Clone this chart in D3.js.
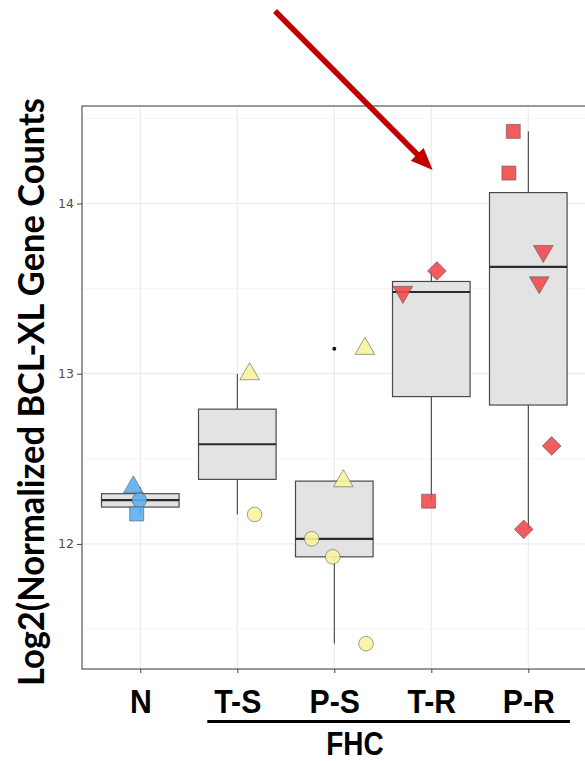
<!DOCTYPE html>
<html>
<head>
<meta charset="utf-8">
<script src="https://cdn.jsdelivr.net/npm/d3@7"></script>
<style>
  html, body { margin: 0; padding: 0; background: #ffffff; }
  svg { display: block; }
</style>
</head>
<body>
<svg id="chart" width="585" height="761"></svg>
<script>
// Groups along the x axis
const categories = ["N", "T-S", "P-S", "T-R", "P-R"];
const groupFill = ["#5eaeee", "#f8f49e", "#f8f49e", "#ef4a4d", "#ef4a4d"];

// log2 normalized BCL-XL counts per sample, with marker shape and horizontal jitter (in category widths)
const valuesN   = [12.333, 12.257, 12.176];
const shapesN   = ["triangle", "circle", "square"];
const jitterN   = [-0.072, -0.010, -0.037];

const valuesTS  = [12.998, 12.173];
const shapesTS  = ["triangle", "circle"];
const jitterTS  = [0.127, 0.178];

const valuesPS  = [13.147, 12.369, 12.030, 11.924, 11.414];
const shapesPS  = ["triangle", "triangle", "circle", "circle", "circle"];
const jitterPS  = [0.316, 0.093, -0.233, -0.016, 0.327];

const valuesTR  = [13.604, 13.480, 12.251];
const shapesTR  = ["diamond", "triangleDown", "square"];
const jitterTR  = [0.058, -0.293, -0.028];

const valuesPR  = [14.424, 14.179, 13.720, 13.536, 12.576, 12.086];
const shapesPR  = ["square", "square", "triangleDown", "triangleDown", "diamond", "diamond"];
const jitterPR  = [-0.155, -0.200, 0.155, 0.113, 0.241, -0.047];

const yTicks = [12, 13, 14];
const yMinor = [11.5, 12.5, 13.5, 14.5];
const yTitle = "Log2(Normalized BCL-XL Gene Counts";
const groupLabel = "FHC";

const groups = [
  { values: valuesN,  shapes: shapesN,  jitter: jitterN },
  { values: valuesTS, shapes: shapesTS, jitter: jitterTS },
  { values: valuesPS, shapes: shapesPS, jitter: jitterPS },
  { values: valuesTR, shapes: shapesTR, jitter: jitterTR },
  { values: valuesPR, shapes: shapesPR, jitter: jitterPR }
].map((g, i) => ({ ...g, name: categories[i], fill: groupFill[i] }));

const svg = d3.select("#chart");

// panel geometry
const panel = { left: 82, right: 586.5, top: 106, bottom: 669 };

const x = d3.scalePoint().domain(categories).range([140.3, 528.3]);
const step = x.step();
const y = d3.scaleLinear().domain([11.265, 14.573]).range([panel.bottom, panel.top]);

const root = svg.append("g");

// grid
root.selectAll("line.minor-y").data(yMinor).join("line")
  .attr("x1", panel.left).attr("x2", panel.right)
  .attr("y1", d => y(d)).attr("y2", d => y(d))
  .attr("stroke", "#f3f3f3").attr("stroke-width", 0.8);
root.selectAll("line.major-y").data(yTicks).join("line")
  .attr("x1", panel.left).attr("x2", panel.right)
  .attr("y1", d => y(d)).attr("y2", d => y(d))
  .attr("stroke", "#ebebeb").attr("stroke-width", 1.2);
root.selectAll("line.major-x").data(categories).join("line")
  .attr("x1", d => x(d)).attr("x2", d => x(d))
  .attr("y1", panel.top).attr("y2", panel.bottom)
  .attr("stroke", "#ebebeb").attr("stroke-width", 1.2);

// box statistics (Tukey, type-7 quantiles)
groups.forEach(g => {
  const s = g.values.slice().sort(d3.ascending);
  const q1 = d3.quantile(s, 0.25), med = d3.quantile(s, 0.5), q3 = d3.quantile(s, 0.75);
  const iqr = q3 - q1;
  const lo = q1 - 1.5 * iqr, hi = q3 + 1.5 * iqr;
  const inside = s.filter(v => v >= lo && v <= hi);
  g.stats = { q1, med, q3, wLo: d3.min(inside), wHi: d3.max(inside),
              outliers: s.filter(v => v < lo || v > hi) };
});

const boxW = step * 0.8;
const boxes = root.selectAll("g.box").data(groups).join("g").attr("class", "box");
boxes.append("line")
  .attr("x1", d => x(d.name)).attr("x2", d => x(d.name))
  .attr("y1", d => y(d.stats.q3)).attr("y2", d => y(d.stats.wHi))
  .attr("stroke", "#333").attr("stroke-width", 1);
boxes.append("line")
  .attr("x1", d => x(d.name)).attr("x2", d => x(d.name))
  .attr("y1", d => y(d.stats.q1)).attr("y2", d => y(d.stats.wLo))
  .attr("stroke", "#333").attr("stroke-width", 1);
boxes.append("rect")
  .attr("x", d => x(d.name) - boxW / 2).attr("width", boxW)
  .attr("y", d => y(d.stats.q3)).attr("height", d => y(d.stats.q1) - y(d.stats.q3))
  .attr("fill", "#e3e3e3").attr("stroke", "#4a4a4a").attr("stroke-width", 1.2);
boxes.append("line")
  .attr("x1", d => x(d.name) - boxW / 2).attr("x2", d => x(d.name) + boxW / 2)
  .attr("y1", d => y(d.stats.med)).attr("y2", d => y(d.stats.med))
  .attr("stroke", "#2b2b2b").attr("stroke-width", 2.2);
boxes.selectAll("circle.outlier").data(d => d.stats.outliers.map(v => ({ v, name: d.name }))).join("circle")
  .attr("cx", d => x(d.name)).attr("cy", d => y(d.v)).attr("r", 2)
  .attr("fill", "#111");

// sample markers
const symbolOf = {
  circle:       { type: d3.symbolCircle,   size: 168, rot: 0 },
  square:       { type: d3.symbolSquare,   size: 196, rot: 0 },
  diamond:      { type: d3.symbolSquare,   size: 175, rot: 45 },
  triangle:     { type: d3.symbolTriangle, size: 168, rot: 0 },
  triangleDown: { type: d3.symbolTriangle, size: 168, rot: 180 }
};
const pts = groups.flatMap(g => g.values.map((v, i) => ({
  v, name: g.name, fill: g.fill, shape: g.shapes[i], dx: g.jitter[i]
})));
root.selectAll("path.pt").data(pts).join("path")
  .attr("d", d => d3.symbol(symbolOf[d.shape].type, symbolOf[d.shape].size)())
  .attr("transform", d => `translate(${x(d.name) + d.dx * step},${y(d.v)}) rotate(${symbolOf[d.shape].rot})`)
  .attr("fill", d => d.fill).attr("fill-opacity", 0.9)
  .attr("stroke", "#555").attr("stroke-opacity", 0.7).attr("stroke-width", 0.8);

// panel border
root.append("rect")
  .attr("x", panel.left).attr("y", panel.top)
  .attr("width", panel.right - panel.left).attr("height", panel.bottom - panel.top)
  .attr("fill", "none").attr("stroke", "#555").attr("stroke-width", 1.2);

// y axis
const yAxis = root.append("g")
  .attr("transform", `translate(${panel.left},0)`)
  .call(d3.axisLeft(y).tickValues(yTicks).tickSize(5).tickPadding(3).tickFormat(d3.format("d")));
yAxis.select(".domain").remove();
yAxis.selectAll(".tick line").attr("stroke", "#444");
yAxis.selectAll(".tick text")
  .attr("fill", "#4d4d4d").attr("font-family", "'DejaVu Sans', sans-serif").attr("font-size", 12.5);

// x axis
const xAxis = root.append("g")
  .attr("transform", `translate(0,${panel.bottom})`)
  .call(d3.axisBottom(x).tickSize(4));
xAxis.select(".domain").remove();
xAxis.selectAll(".tick line").attr("stroke", "#444");
xAxis.selectAll(".tick text")
  .attr("fill", "#000").attr("font-family", "'Liberation Sans', Arial, sans-serif")
  .attr("font-weight", "bold").attr("font-size", 32.5)
  .attr("y", 44.3).attr("dy", null)
  .attr("transform", "scale(0.93,1)");

// group bracket under the four treated groups
const bracket = { x1: 207.3, x2: 570, y: 721.5 };
root.append("line")
  .attr("x1", bracket.x1).attr("x2", bracket.x2)
  .attr("y1", bracket.y).attr("y2", bracket.y)
  .attr("stroke", "#000").attr("stroke-width", 3);
root.append("text")
  .attr("transform", `translate(355,755) scale(0.86,1)`)
  .attr("text-anchor", "middle")
  .attr("font-family", "'Liberation Sans', Arial, sans-serif")
  .attr("font-weight", "bold").attr("font-size", 32.5)
  .text(groupLabel);

// y title
root.append("text")
  .attr("transform", `translate(44,392) rotate(-90)`)
  .attr("text-anchor", "middle")
  .attr("font-family", "Lato, 'Open Sans', sans-serif")
  .attr("font-weight", "bold").attr("font-size", 36)
  .attr("textLength", 588).attr("lengthAdjust", "spacingAndGlyphs")
  .text(yTitle);

// pointer arrow
const arrow = { x1: 275, y1: 11, x2: 432.7, y2: 170 };
const ang = Math.atan2(arrow.y2 - arrow.y1, arrow.x2 - arrow.x1);
const headLen = 22, headHalf = 9;
const bx = arrow.x2 - headLen * Math.cos(ang), by = arrow.y2 - headLen * Math.sin(ang);
root.append("line")
  .attr("x1", arrow.x1).attr("y1", arrow.y1).attr("x2", bx + 2 * Math.cos(ang)).attr("y2", by + 2 * Math.sin(ang))
  .attr("stroke", "#c00000").attr("stroke-width", 5.5);
root.append("path")
  .attr("d", d3.line()([
    [arrow.x2, arrow.y2],
    [bx + headHalf * Math.sin(ang), by - headHalf * Math.cos(ang)],
    [bx - headHalf * Math.sin(ang), by + headHalf * Math.cos(ang)]
  ]) + "Z")
  .attr("fill", "#c00000");
</script>
</body>
</html>
